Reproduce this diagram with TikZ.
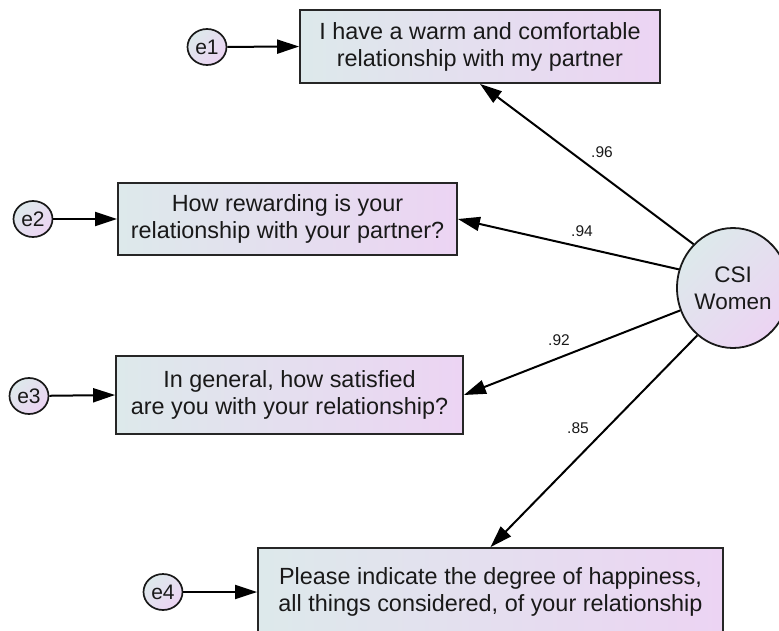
\documentclass[tikz,border=0pt]{standalone}
\usepackage{fontspec}
\setmainfont{Liberation Sans}
\usetikzlibrary{shapes.geometric,arrows.meta}
\definecolor{shL}{RGB}{221,233,235}
\definecolor{shR}{RGB}{236,212,243}
\definecolor{txt}{RGB}{25,25,25}
\tikzset{
  obsbox/.style={draw=black!85, line width=1.8pt, rectangle, inner sep=0pt,
    left color=shL, right color=shR, align=center, text=txt,
    font=\fontsize{23.4}{27}\selectfont},
  errnode/.style={draw=black!90, line width=1.7pt, ellipse, inner sep=0pt,
    minimum width=39pt, minimum height=36pt,
    top color=shL, bottom color=shR, shading angle=45, text=txt,
    font=\fontsize{21}{24}\selectfont},
  latnode/.style={draw=black!90, line width=1.8pt, ellipse, inner sep=0pt,
    minimum width=112pt, minimum height=120pt,
    top color=shL, bottom color=shR, shading angle=45, text=txt, align=center,
    font=\fontsize{22.5}{27}\selectfont},
  arr/.style={line width=2pt, black, -{Triangle[length=22pt,width=14pt]}},
  coef/.style={font=\fontsize{15.5}{18}\selectfont, text=txt, inner sep=0pt}
}
\begin{document}
\begin{tikzpicture}[x=1pt,y=-1pt]
\useasboundingbox (0,0) rectangle (779,630);
\begin{scope}
\clip (0,0) rectangle (779,630);
\node[obsbox, minimum width=360pt, minimum height=73pt] (b1) at (480,46.5)
  {I have a warm and comfortable\\relationship with my partner};
\node[obsbox, minimum width=339pt, minimum height=72pt] (b2) at (287.5,219)
  {How rewarding is your\\relationship with your partner?};
\node[obsbox, minimum width=347pt, minimum height=78pt] (b3) at (289.5,395)
  {In general, how satisfied\\are you with your relationship?};
\node[obsbox, minimum width=465pt, minimum height=88pt] (b4) at (490.5,592)
  {Please indicate the degree of happiness,\\all things considered, of your relationship};
\node[latnode] (csi) at (733,288) {CSI\\Women};
\node[errnode] (e1) at (207,47) {e1};
\node[errnode] (e2) at (33,219) {e2};
\node[errnode] (e3) at (29,396) {e3};
\node[errnode] (e4) at (163,592) {e4};
\draw[arr] (e1) -- (b1.west);
\draw[arr] (e2) -- (b2.west);
\draw[arr] (e3) -- (b3.west);
\draw[arr] (e4) -- (b4.west);
\draw[arr] (csi.132) -- (b1.south);
\draw[arr] (csi.161) -- (b2.east);
\draw[arr] (csi.203) -- (b3.east);
\draw[arr] (csi.233) -- (b4.north);
\node[coef] (c1) at (602,152) {.96};
\node[coef] (c2) at (582,231) {.94};
\node[coef] (c3) at (559,340) {.92};
\node[coef] (c4) at (578,428) {.85};
\end{scope}
\end{tikzpicture}
\end{document}
